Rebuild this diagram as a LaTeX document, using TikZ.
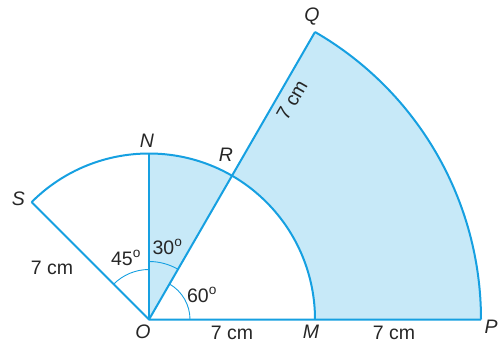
\documentclass[tikz,border=0pt]{standalone}
\usepackage{fontspec}
\setmainfont{Liberation Sans}
\usetikzlibrary{calc}
\definecolor{lineblue}{RGB}{22,160,225}
\definecolor{fillblue}{RGB}{199,233,248}
\begin{document}
\begin{tikzpicture}[x=1pt,y=1pt,
  edge/.style={draw=lineblue,line width=2pt},
  anglemark/.style={draw=lineblue,line width=0.9pt},
  lbl/.style={font=\fontsize{19.5}{22}\selectfont,text=black!85,inner sep=0pt},
  pt/.style={font=\fontsize{19.5}{22}\selectfont\itshape,text=black!85,inner sep=0pt}]
\useasboundingbox (0,0) rectangle (500,343);
\coordinate (O) at (149,23.5);
\coordinate (M) at ($(O)+(166,0)$);
\coordinate (P) at ($(O)+(332,0)$);
\coordinate (N) at ($(O)+(0,166)$);
\coordinate (R) at ($(O)+(60:166)$);
\coordinate (Q) at ($(O)+(60:332)$);
\coordinate (S) at ($(O)+(135:166)$);
% shaded regions
\fill[fillblue] (O) -- (R) arc[start angle=60,end angle=90,radius=166] -- cycle;
\fill[fillblue] (M) -- (P) arc[start angle=0,end angle=60,radius=332] -- (Q) -- (R) arc[start angle=60,end angle=0,radius=166] -- cycle;
% angle marks
\draw[anglemark] ($(O)+(90:50)$) arc[start angle=90,end angle=135,radius=50];
\draw[anglemark] ($(O)+(60:58)$) arc[start angle=60,end angle=90,radius=58];
\draw[anglemark] ($(O)+(0:41)$) arc[start angle=0,end angle=60,radius=41];
% outlines
\draw[edge] (S) arc[start angle=135,end angle=0,radius=166];
\draw[edge] (P) arc[start angle=0,end angle=60,radius=332];
\draw[edge,line join=round] (S) -- (O) -- (P);
\draw[edge] (O) -- (N);
\draw[edge] (O) -- (Q);
% labels
\node[pt] (lQ) at (312,326) {Q};
\node[pt] (lN) at (147,202.3) {N};
\node[pt] (lR) at (226,188) {R};
\node[pt] (lS) at (18.5,144) {S};
\node[pt] (lO) at (143,11.3) {O};
\node[pt] (lM) at (311,11.3) {M};
\node[pt] (lP) at (491,16.3) {P};
\node[lbl] (d1) at (394,10) {7 cm};
\node[lbl] (d2) at (232,10) {7 cm};
\node[lbl] (d3) at (52,75) {7 cm};
\node[lbl,rotate=60] (d4) at (292,243) {7 cm};
\node[lbl] (a45) at (126,85) {45\textsuperscript{o}};
\node[lbl] (a30) at (167.5,96.3) {30\textsuperscript{o}};
\node[lbl] (a60) at (202,48) {60\textsuperscript{o}};
\end{tikzpicture}
\end{document}
